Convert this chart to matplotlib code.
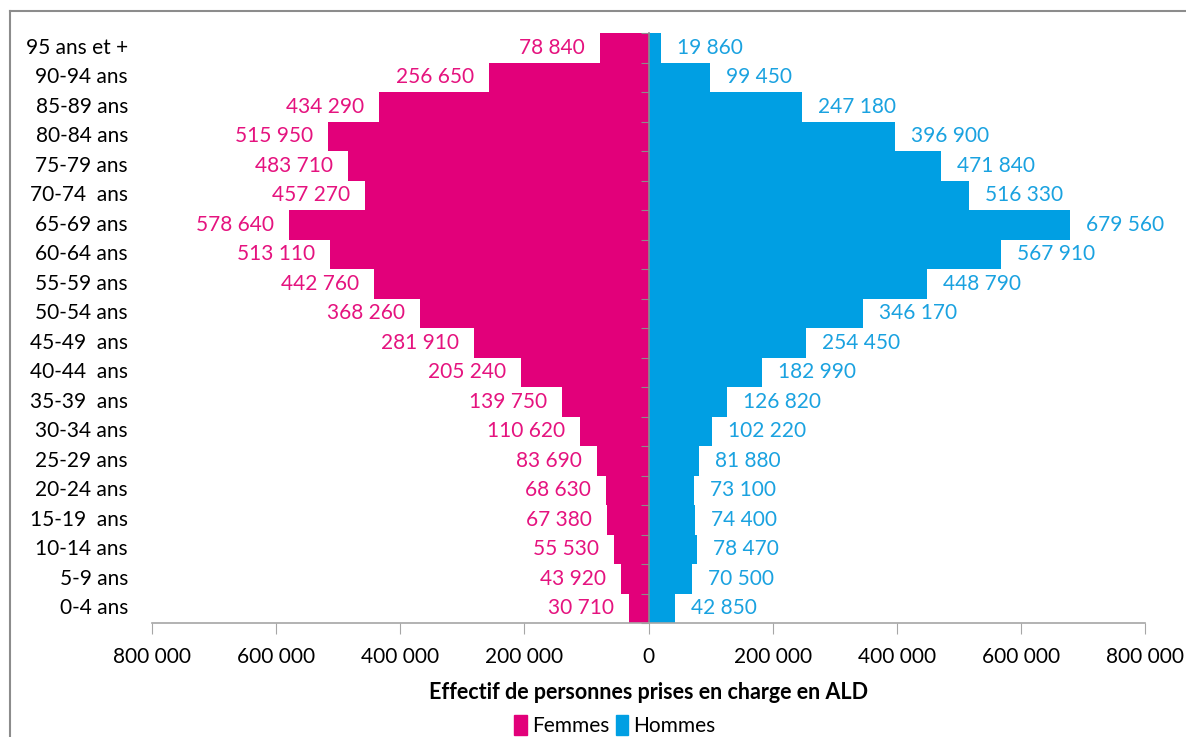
import matplotlib
matplotlib.use('Agg')
from matplotlib import pyplot
from matplotlib.lines import Line2D
from matplotlib.patches import Patch
import numpy

pyplot.rcParams['font.family'] = ['Lato', 'DejaVu Sans']

age_groups = ['95 ans et +', '90-94 ans', '85-89 ans', '80-84 ans', '75-79 ans',
              '70-74  ans', '65-69 ans', '60-64 ans', '55-59 ans', '50-54 ans',
              '45-49  ans', '40-44  ans', '35-39  ans', '30-34 ans', '25-29 ans',
              '20-24 ans', '15-19  ans', '10-14 ans', '5-9 ans', '0-4 ans']
femmes = [78840, 256650, 434290, 515950, 483710, 457270, 578640, 513110, 442760, 368260,
          281910, 205240, 139750, 110620, 83690, 68630, 67380, 55530, 43920, 30710]
hommes = [19860, 99450, 247180, 396900, 471840, 516330, 679560, 567910, 448790, 346170,
          254450, 182990, 126820, 102220, 81880, 73100, 74400, 78470, 70500, 42850]
xticks = [-800000, -600000, -400000, -200000, 0, 200000, 400000, 600000, 800000]

col_f = '#E2007A'
col_h = '#009FE3'
txt_f = '#E5137F'
txt_h = '#1AA2E0'
fs = 15


def fmt(v):
    return '{:,}'.format(int(abs(v))).replace(',', ' ')


fig = pyplot.figure(figsize=(11.86, 7.37), dpi=100)
ax = fig.add_axes([152 / 1186, 1 - 623 / 737, 993 / 1186, 590 / 737])

n = len(age_groups)
y = numpy.arange(n)[::-1]

ax.barh(y, [-v for v in femmes], height=1.0, color=col_f, zorder=1)
ax.barh(y, hommes, height=1.0, color=col_h, zorder=1)

# data labels, ~15 px away from the bar end
px = 1600000 / 993
for yi, f, h in zip(y, femmes, hommes):
    ax.text(-f - 15 * px, yi, fmt(f), ha='right', va='center', color=txt_f, fontsize=fs)
    ax.text(h + 16 * px, yi, fmt(h), ha='left', va='center', color=txt_h, fontsize=fs)

# category labels on the left
trans = matplotlib.transforms.blended_transform_factory(ax.transAxes, ax.transData)
for yi, lab in zip(y, age_groups):
    ax.text(-24 / 993, yi, lab, transform=trans, ha='right', va='center',
            color='black', fontsize=fs)

ax.set_xlim(-800000, 800000)
ax.set_ylim(-0.5, n - 0.5)

ax.set_xticks(xticks)
ax.set_xticklabels([fmt(v) for v in xticks], fontsize=fs)
ax.tick_params(axis='x', length=8, color='#A6A6A6', pad=9)

ax.spines['left'].set_position(('data', 0))
ax.set_yticks(numpy.arange(n + 1) - 0.5)
ax.set_yticklabels([])
ax.tick_params(axis='y', length=6, color='#8C8C8C', direction='out')
for s in ['top', 'right']:
    ax.spines[s].set_visible(False)
ax.spines['bottom'].set_color('#A6A6A6')
ax.spines['left'].set_color('#8C8C8C')
ax.spines['bottom'].set_linewidth(1.2)
ax.spines['left'].set_linewidth(1.2)

ax.set_xlabel('Effectif de personnes prises en charge en ALD', fontsize=15.5,
              fontweight='bold', labelpad=11)

handles = [Patch(color=col_f, label='Femmes'), Patch(color=col_h, label='Hommes')]
fig.legend(handles=handles, loc='lower center', bbox_to_anchor=(615 / 1186, -0.024),
           ncol=2, frameon=False, fontsize=fs, handlelength=0.6, handleheight=1.1,
           handletextpad=0.25, columnspacing=0.3)

# outer chart frame (top and left edges visible)
fig.add_artist(Line2D([10 / 1186, 1.0], [1 - 11 / 737, 1 - 11 / 737],
                      transform=fig.transFigure, color='#8C8C8C', lw=1.5))
fig.add_artist(Line2D([10 / 1186, 10 / 1186], [0.0, 1 - 11 / 737],
                      transform=fig.transFigure, color='#8C8C8C', lw=1.5))

fig.savefig('out.png', dpi=100, facecolor='white')
